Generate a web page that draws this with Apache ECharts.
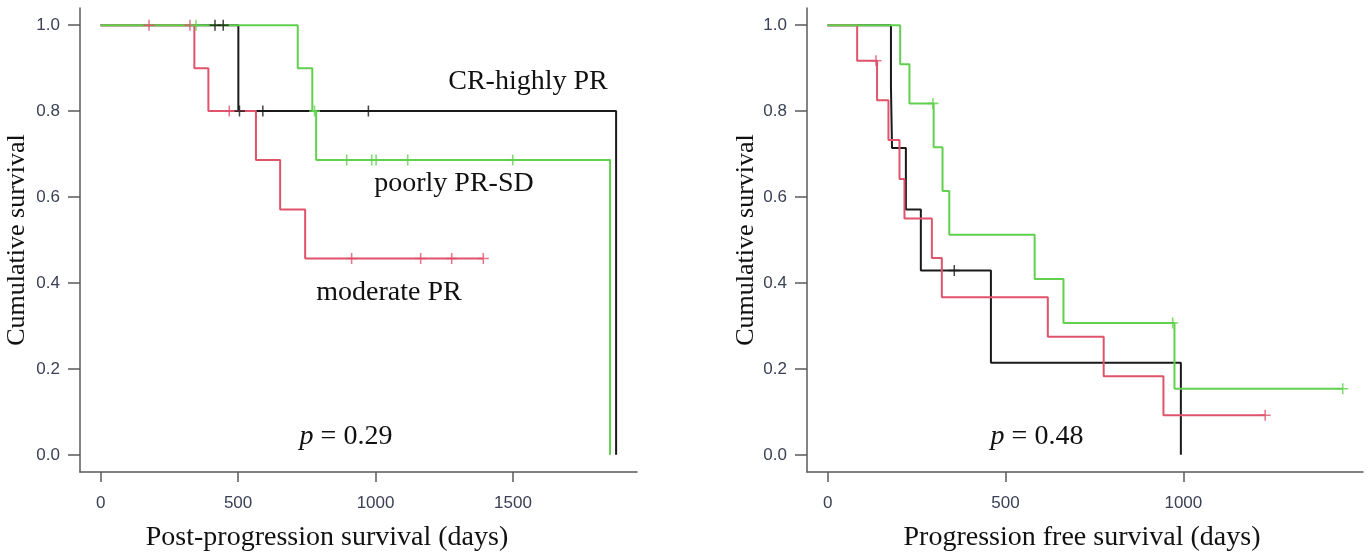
<!DOCTYPE html>
<html>
<head>
<meta charset="utf-8">
<script src="https://cdn.jsdelivr.net/npm/echarts@6/dist/echarts.min.js"></script>
<style>
html,body{margin:0;padding:0;background:#fff;}
#chart{width:1370px;height:553px;}
</style>
</head>
<body>
<div id="chart"></div>
<script>
// ---------- Left panel: Post-progression survival ----------
const ppsXTicks = [0, 500, 1000, 1500];
const survTicks = [0, 0.2, 0.4, 0.6, 0.8, 1.0];

const ppsCRTimes = [0, 501, 1875];
const ppsCRSurv = [1.0, 0.8, 0.0];
const ppsCRCensTimes = [416, 446, 505, 590, 974];
const ppsCRCensSurv = [1.0, 1.0, 0.8, 0.8, 0.8];

const ppsModTimes = [0, 341, 392, 565, 653, 744, 1392];
const ppsModSurv = [1.0, 0.9, 0.8, 0.686, 0.571, 0.457, 0.457];
const ppsModCensTimes = [176, 325, 468, 913, 1164, 1277, 1392];
const ppsModCensSurv = [1.0, 1.0, 0.8, 0.457, 0.457, 0.457, 0.457];

const ppsPoorTimes = [0, 717, 770, 784, 1853];
const ppsPoorSurv = [1.0, 0.9, 0.8, 0.686, 0.0];
const ppsPoorCensTimes = [347, 778, 895, 986, 1002, 1117, 1499];
const ppsPoorCensSurv = [1.0, 0.8, 0.686, 0.686, 0.686, 0.686, 0.686];

// ---------- Right panel: Progression free survival ----------
const pfsXTicks = [0, 500, 1000];

const pfsCRTimes = [0, 178, 181, 220, 262, 459, 993];
const pfsCRSurv = [1.0, 0.857, 0.714, 0.571, 0.429, 0.214, 0.0];
const pfsCRCensTimes = [356];
const pfsCRCensSurv = [0.429];

const pfsModTimes = [0, 83, 139, 171, 202, 216, 293, 321, 619, 776, 944, 1230];
const pfsModSurv = [1.0, 0.917, 0.825, 0.733, 0.642, 0.55, 0.458, 0.367, 0.275, 0.183, 0.092, 0.092];
const pfsModCensTimes = [136, 1230];
const pfsModCensSurv = [0.917, 0.092];

const pfsPoorTimes = [0, 204, 230, 298, 323, 342, 582, 663, 975, 1448];
const pfsPoorSurv = [1.0, 0.909, 0.818, 0.716, 0.614, 0.512, 0.409, 0.307, 0.154, 0.154];
const pfsPoorCensTimes = [296, 970, 1448];
const pfsPoorCensSurv = [0.818, 0.307, 0.154];

const groupNames = ['CR-highly PR', 'moderate PR', 'poorly PR-SD'];
const groupColors = ['#1a1a1a', '#DF536B', '#61D04F'];

const zip = (a, b) => a.map((v, i) => [v, b[i]]);
const plusPath = 'path://M4.3,0 H5.7 V10 H4.3 Z M0,4.3 H10 V5.7 H0 Z';

const axisColor = '#5a5a5a';
const labelColor = '#3a4055';
const serif = "'Liberation Serif', 'Times New Roman', serif";
const sans = "'Liberation Sans', Arial, sans-serif";

function xAxisDef(idx, min, max, ticks) {
  return {
    gridIndex: idx, type: 'value', min: min, max: max,
    axisLine: {show: true, onZero: false, lineStyle: {color: axisColor, width: 1.5}},
    axisTick: {show: true, length: 10, customValues: ticks, lineStyle: {color: axisColor, width: 1.5}},
    axisLabel: {customValues: ticks, margin: 23, fontSize: 17, fontFamily: sans, color: labelColor,
      formatter: v => String(Math.round(v))},
    splitLine: {show: false}
  };
}
function yAxisDef(idx) {
  return {
    gridIndex: idx, type: 'value', min: -0.04, max: 1.04,
    axisLine: {show: true, onZero: false, lineStyle: {color: axisColor, width: 1.5}},
    axisTick: {show: true, length: 12, customValues: survTicks, lineStyle: {color: axisColor, width: 1.5}},
    axisLabel: {customValues: survTicks, margin: 20, fontSize: 17, fontFamily: sans, color: labelColor,
      formatter: v => Number(v).toFixed(1)},
    splitLine: {show: false}
  };
}
function curve(idx, g, times, surv) {
  return {type: 'line', name: groupNames[g], xAxisIndex: idx, yAxisIndex: idx, step: 'end',
    data: zip(times, surv), symbol: 'none', showSymbol: false,
    lineStyle: {color: groupColors[g], width: 2}, itemStyle: {color: groupColors[g]}, z: 2};
}
function cens(idx, g, times, surv) {
  return {type: 'scatter', name: groupNames[g] + ' censored', xAxisIndex: idx, yAxisIndex: idx,
    data: zip(times, surv), symbol: plusPath, symbolSize: 11,
    itemStyle: {color: groupColors[g]}, z: 3};
}
function txt(x, y, text, size, extra) {
  return Object.assign({type: 'text', x: x, y: y, silent: true,
    style: {text: text, x: 0, y: 0, fontSize: size, fontFamily: serif, fill: '#111',
      align: 'center', verticalAlign: 'middle', textAlign: 'center', textVerticalAlign: 'middle',
      rich: {i: {fontStyle: 'italic', fontSize: size, fontFamily: serif, fill: '#111'}}}}, extra || {});
}

const option = {
  animation: false,
  backgroundColor: '#fff',
  grid: [
    {left: 80, top: 8, width: 557, height: 464},
    {left: 807, top: 8, width: 556, height: 464}
  ],
  xAxis: [xAxisDef(0, -75, 1951, ppsXTicks), xAxisDef(1, -58, 1505, pfsXTicks)],
  yAxis: [yAxisDef(0), yAxisDef(1)],
  series: [
    curve(0, 0, ppsCRTimes, ppsCRSurv), cens(0, 0, ppsCRCensTimes, ppsCRCensSurv),
    curve(0, 1, ppsModTimes, ppsModSurv), cens(0, 1, ppsModCensTimes, ppsModCensSurv),
    curve(0, 2, ppsPoorTimes, ppsPoorSurv), cens(0, 2, ppsPoorCensTimes, ppsPoorCensSurv),
    curve(1, 0, pfsCRTimes, pfsCRSurv), cens(1, 0, pfsCRCensTimes, pfsCRCensSurv),
    curve(1, 1, pfsModTimes, pfsModSurv), cens(1, 1, pfsModCensTimes, pfsModCensSurv),
    curve(1, 2, pfsPoorTimes, pfsPoorSurv), cens(1, 2, pfsPoorCensTimes, pfsPoorCensSurv)
  ],
  graphic: [
    txt(17, 240, 'Cumulative survival', 26, {rotation: Math.PI / 2}),
    txt(746, 240, 'Cumulative survival', 26, {rotation: Math.PI / 2}),
    txt(327, 537.5, 'Post-progression survival (days)', 28),
    txt(1082, 537.5, 'Progression free survival (days)', 28),
    txt(528, 81.5, 'CR-highly PR', 28),
    txt(454, 184, 'poorly PR-SD', 28),
    txt(389, 293, 'moderate PR', 28),
    txt(346, 436.5, '{i|p} = 0.29', 28),
    txt(1037, 436.5, '{i|p} = 0.48', 28)
  ]
};

const chart = echarts.init(document.getElementById('chart'), null, {renderer: 'canvas'});
chart.setOption(option);
</script>
</body>
</html>
